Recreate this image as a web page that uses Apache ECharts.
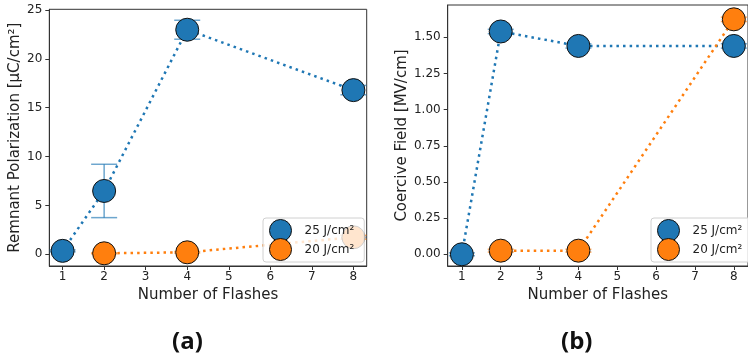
<!DOCTYPE html>
<html>
<head>
<meta charset="utf-8">
<script src="https://cdn.jsdelivr.net/npm/echarts@6/dist/echarts.min.js"></script>
<style>
  html, body { margin: 0; padding: 0; background: #fff; }
  #chart { width: 748px; height: 361px; }
</style>
</head>
<body>
<div id="chart"></div>
<script>
// Flash counts for each fluence
const flashes25 = [1, 2, 4, 8];
const flashes20 = [2, 4, 8];

// (a) remnant polarization, µC/cm²
const pr25 = [0.35, 6.48, 22.98, 16.8];
const pr25Err = [0.1, 2.73, 0.97, 0.48];
const pr20 = [0.1, 0.2, 1.74];
const pr20Err = [0.05, 0.08, 0.2];

// (b) coercive field, MV/cm
const ec25 = [0.0, 1.54, 1.44, 1.44];
const ec25Err = [0.01, 0.015, 0.015, 0.015];
const ec20 = [0.025, 0.025, 1.624];
const ec20Err = [0.01, 0.01, 0.015];

// tick labels
const xTicks = [1, 2, 3, 4, 5, 6, 7, 8];
const prTicks = [0, 5, 10, 15, 20, 25];
const ecTicks = [0, 0.25, 0.5, 0.75, 1.0, 1.25, 1.5];

const names = ['25 J/cm²', '20 J/cm²'];
const BLUE = '#1f77b4';
const ORANGE = '#ff7f0e';
const FONT = 'DejaVu Sans';

const zip = (xs, ys) => xs.map((x, i) => [x, ys[i]]);
const zip3 = (xs, ys, es) => xs.map((x, i) => [x, ys[i], es[i]]);

function errorBars(color) {
  return function (params, api) {
    const x = api.value(0), y = api.value(1), e = api.value(2);
    const top = api.coord([x, y + e]);
    const bot = api.coord([x, y - e]);
    const cap = 13;
    const style = { stroke: color, lineWidth: 1.5, opacity: 0.65 };
    return {
      type: 'group',
      children: [
        { type: 'line', shape: { x1: top[0], y1: top[1], x2: bot[0], y2: bot[1] }, style },
        { type: 'line', shape: { x1: top[0] - cap, y1: top[1], x2: top[0] + cap, y2: top[1] }, style },
        { type: 'line', shape: { x1: bot[0] - cap, y1: bot[1], x2: bot[0] + cap, y2: bot[1] }, style }
      ]
    };
  };
}

function lineSeries(name, color, data, idx) {
  return {
    name, type: 'line', data,
    xAxisIndex: idx, yAxisIndex: idx,
    symbol: 'circle', symbolSize: 23,
    itemStyle: { color, borderColor: '#111', borderWidth: 1 },
    lineStyle: { color, width: 2.5, type: [2.5, 4.1] },
    emphasis: { disabled: true },
    z: 3
  };
}

function errSeries(name, color, data, idx) {
  return {
    name, type: 'custom', data,
    xAxisIndex: idx, yAxisIndex: idx,
    renderItem: errorBars(color),
    z: 2, silent: true
  };
}

function xAxis(gridIndex, min, max) {
  return {
    type: 'value', gridIndex, min, max,
    name: 'Number of Flashes', nameLocation: 'middle', nameGap: 22,
    nameTextStyle: { fontFamily: FONT, fontSize: 15, color: '#222' },
    splitLine: { show: false },
    axisLine: { onZero: false, lineStyle: { color: '#333', width: 1 } },
    axisTick: { length: 4, lineStyle: { color: '#333' }, customValues: xTicks },
    axisLabel: { fontFamily: FONT, fontSize: 12, color: '#222', margin: 5, customValues: xTicks }
  };
}

function yAxis(gridIndex, min, max, name, ticks, fmt, gap) {
  return {
    type: 'value', gridIndex, min, max,
    name, nameLocation: 'middle', nameGap: gap, nameRotate: 90,
    nameTextStyle: { fontFamily: FONT, fontSize: 15, color: '#222' },
    splitLine: { show: false },
    axisLine: { onZero: false, lineStyle: { color: '#333', width: 1 } },
    axisTick: { length: 4, lineStyle: { color: '#333' }, customValues: ticks },
    axisLabel: { fontFamily: FONT, fontSize: 12, color: '#222', margin: 7, customValues: ticks, formatter: fmt }
  };
}

function legend(left, top) {
  return {
    left, top, orient: 'vertical',
    icon: 'circle', itemWidth: 22, itemHeight: 22, itemGap: -4,
    padding: [1, 10, 1, 6],
    backgroundColor: 'rgba(255,255,255,0.8)',
    borderColor: '#d0d0d0', borderWidth: 1, borderRadius: 3,
    selectedMode: false,
    textStyle: { fontFamily: FONT, fontSize: 12, color: '#222', padding: [0, 0, 0, 8] },
    data: [
      { name: names[0], itemStyle: { color: BLUE, borderColor: '#111', borderWidth: 1 } },
      { name: names[1], itemStyle: { color: ORANGE, borderColor: '#111', borderWidth: 1 } }
    ],
    z: 10
  };
}

const chart = echarts.init(document.getElementById('chart'), null, { renderer: 'canvas' });

chart.setOption({
  animation: false,
  backgroundColor: '#fff',
  title: [
    { text: '(a)', left: 172, top: 330, textStyle: { fontFamily: 'Open Sans', fontWeight: 'bold', fontSize: 24, color: '#111' }, padding: 0 },
    { text: '(b)', left: 561, top: 330, textStyle: { fontFamily: 'Open Sans', fontWeight: 'bold', fontSize: 24, color: '#111' }, padding: 0 }
  ],
  grid: [
    { left: 49.3, top: 9.3, width: 317.4, height: 256.7, show: true, borderColor: '#333', borderWidth: 1, backgroundColor: 'transparent' },
    { left: 447.7, top: 5, width: 308.3, height: 261, show: true, borderColor: '#333', borderWidth: 1, backgroundColor: 'transparent' }
  ],
  xAxis: [xAxis(0, 0.68, 8.32), xAxis(1, 0.635, 8.365)],
  yAxis: [
    yAxis(0, -1.2, 25.07, 'Remnant Polarization [μC/cm²]', prTicks, v => String(v), 27),
    yAxis(1, -0.081, 1.723, 'Coercive Field [MV/cm]', ecTicks, v => v.toFixed(2), 38)
  ],
  legend: [legend(263, 218), legend(651, 218)],
  series: [
    errSeries(names[0], BLUE, zip3(flashes25, pr25, pr25Err), 0),
    lineSeries(names[0], BLUE, zip(flashes25, pr25), 0),
    errSeries(names[1], ORANGE, zip3(flashes20, pr20, pr20Err), 0),
    lineSeries(names[1], ORANGE, zip(flashes20, pr20), 0),
    errSeries(names[0], BLUE, zip3(flashes25, ec25, ec25Err), 1),
    lineSeries(names[0], BLUE, zip(flashes25, ec25), 1),
    errSeries(names[1], ORANGE, zip3(flashes20, ec20, ec20Err), 1),
    lineSeries(names[1], ORANGE, zip(flashes20, ec20), 1)
  ]
});
</script>
</body>
</html>
